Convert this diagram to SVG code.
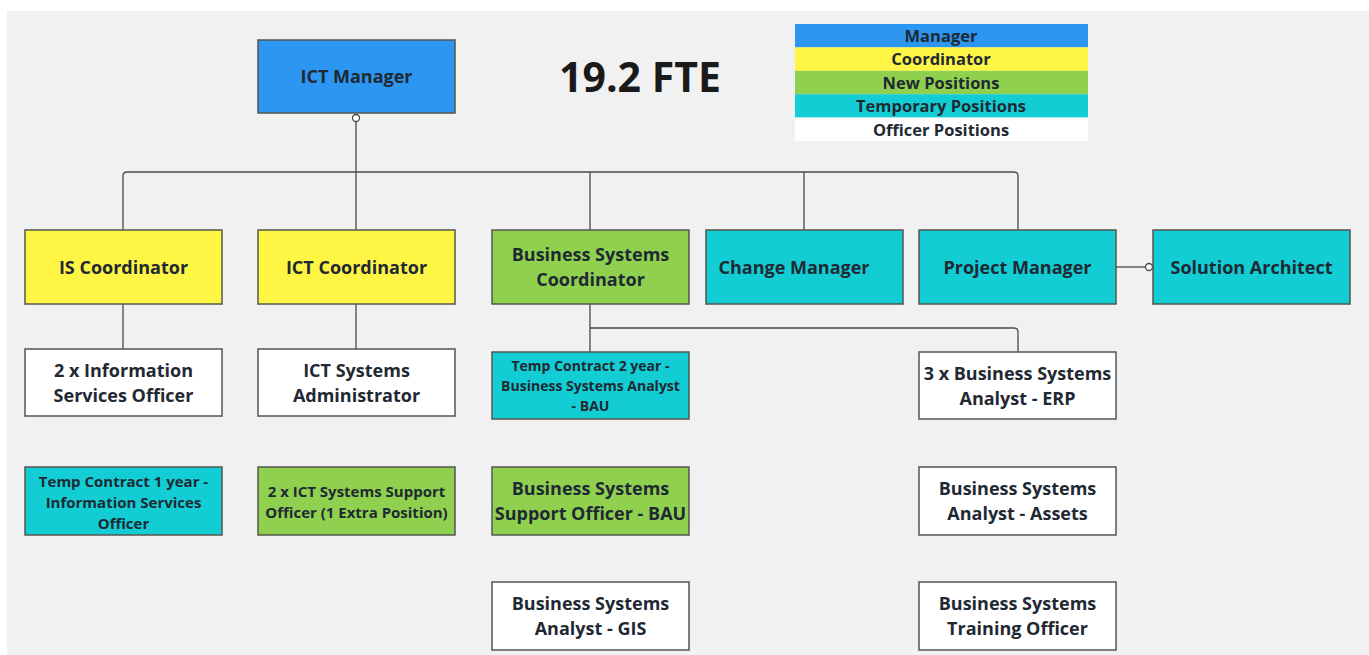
<svg xmlns="http://www.w3.org/2000/svg" width="1369" height="655" viewBox="0 0 1369 655">
<style>
.n{stroke:#55564f;stroke-width:1.5}
.b{fill:#2d96f0}.y{fill:#fff545}.g{fill:#8fd14f}.c{fill:#12cdd4}.w{fill:#ffffff}
text{font-family:"Open Sans","Noto Sans","Liberation Sans",sans-serif;font-weight:bold;fill:#1f2933;text-anchor:middle}
.t18{font-size:18px}.t15{font-size:15px}.t14{font-size:14px}.t16{font-size:16.5px}
.cn{fill:none;stroke:#4a4a4a;stroke-width:1.3}
</style>
<rect x="0" y="0" width="1369" height="655" fill="#ffffff"/>
<rect x="7" y="11" width="1362" height="644" fill="#f1f1f1"/>
<g id="legend">
<rect x="795" y="24" width="293" height="23.4" fill="#2d96f0"/>
<rect x="795" y="47.4" width="293" height="23.4" fill="#fff545"/>
<rect x="795" y="70.8" width="293" height="23.4" fill="#8fd14f"/>
<rect x="795" y="94.2" width="293" height="23.4" fill="#12cdd4"/>
<rect x="795" y="117.6" width="293" height="23.4" fill="#ffffff"/>
<text class="t16" x="941" y="41.5">Manager</text>
<text class="t16" x="941" y="65">Coordinator</text>
<text class="t16" x="941" y="88.5">New Positions</text>
<text class="t16" x="941" y="112">Temporary Positions</text>
<text class="t16" x="941" y="135.5">Officer Positions</text>
</g>
<text id="fte" x="640" y="92" style="font-size:41px;fill:#1a1a1a">19.2 FTE</text>
<g id="connectors">
<path class="cn" d="M356 122 V172"/>
<path class="cn" d="M123 230 V176 Q123 172 127 172 H1014 Q1018 172 1018 176 V230"/>
<path class="cn" d="M356 172 V230"/>
<path class="cn" d="M590 172 V230"/>
<path class="cn" d="M804 172 V230"/>
<path class="cn" d="M123 304 V349"/>
<path class="cn" d="M356 304 V349"/>
<path class="cn" d="M590 304 V352"/>
<path class="cn" d="M590 328 H1014 Q1018 328 1018 332 V352"/>
<path class="cn" d="M1116 267 H1145"/>
<circle cx="356" cy="118" r="3.5" fill="#ffffff" stroke="#4a4a4a" stroke-width="1.3"/>
<circle cx="1149" cy="267" r="3.5" fill="#ffffff" stroke="#4a4a4a" stroke-width="1.3"/>
</g>
<g id="ict-manager"><rect class="n b" x="258" y="40" width="197" height="73"/><text class="t18" x="356.5" y="83">ICT Manager</text></g>
<g id="is-coordinator"><rect class="n y" x="25" y="230" width="197" height="74"/><text class="t18" x="123.5" y="274">IS Coordinator</text></g>
<g id="ict-coordinator"><rect class="n y" x="258" y="230" width="197" height="74"/><text class="t18" x="356.5" y="274">ICT Coordinator</text></g>
<g id="bs-coordinator"><rect class="n g" x="492" y="230" width="197" height="74"/><text class="t18" x="590.5" y="261">Business Systems</text><text class="t18" x="590.5" y="286">Coordinator</text></g>
<g id="change-manager"><rect class="n c" x="706" y="230" width="197" height="74"/><text class="t18" x="794" y="274">Change Manager</text></g>
<g id="project-manager"><rect class="n c" x="919" y="230" width="197" height="74"/><text class="t18" x="1017.5" y="274">Project Manager</text></g>
<g id="solution-architect"><rect class="n c" x="1153" y="230" width="197" height="74"/><text class="t18" x="1251.5" y="274">Solution Architect</text></g>
<g id="info-services-officer"><rect class="n w" x="25" y="349" width="197" height="67"/><text class="t18" x="123.5" y="377">2 x Information</text><text class="t18" x="123.5" y="402">Services Officer</text></g>
<g id="ict-sys-admin"><rect class="n w" x="258" y="349" width="197" height="67"/><text class="t18" x="356.5" y="377">ICT Systems</text><text class="t18" x="356.5" y="402">Administrator</text></g>
<g id="temp-bsa"><rect class="n c" x="492" y="352" width="197" height="67"/><text class="t14" x="590.5" y="371">Temp Contract 2 year -</text><text class="t14" x="590.5" y="391">Business Systems Analyst</text><text class="t14" x="590.5" y="411">- BAU</text></g>
<g id="bsa-erp"><rect class="n w" x="919" y="352" width="197" height="67"/><text class="t18" x="1017.5" y="380">3 x Business Systems</text><text class="t18" x="1017.5" y="405">Analyst - ERP</text></g>
<g id="temp-iso"><rect class="n c" x="25" y="467" width="197" height="68"/><text class="t15" x="123.5" y="487">Temp Contract 1 year -</text><text class="t15" x="123.5" y="508">Information Services</text><text class="t15" x="123.5" y="529">Officer</text></g>
<g id="ict-support"><rect class="n g" x="258" y="467" width="197" height="68"/><text class="t15" x="356.5" y="497">2 x ICT Systems Support</text><text class="t15" x="356.5" y="518">Officer (1 Extra Position)</text></g>
<g id="bs-support"><rect class="n g" x="492" y="467" width="197" height="68"/><text class="t18" x="590.5" y="495">Business Systems</text><text class="t18" x="590.5" y="520">Support Officer - BAU</text></g>
<g id="bsa-assets"><rect class="n w" x="919" y="467" width="197" height="68"/><text class="t18" x="1017.5" y="495">Business Systems</text><text class="t18" x="1017.5" y="520">Analyst - Assets</text></g>
<g id="bsa-gis"><rect class="n w" x="492" y="582" width="197" height="68"/><text class="t18" x="590.5" y="610">Business Systems</text><text class="t18" x="590.5" y="635">Analyst - GIS</text></g>
<g id="bs-training"><rect class="n w" x="919" y="582" width="197" height="68"/><text class="t18" x="1017.5" y="610">Business Systems</text><text class="t18" x="1017.5" y="635">Training Officer</text></g>
</svg>
